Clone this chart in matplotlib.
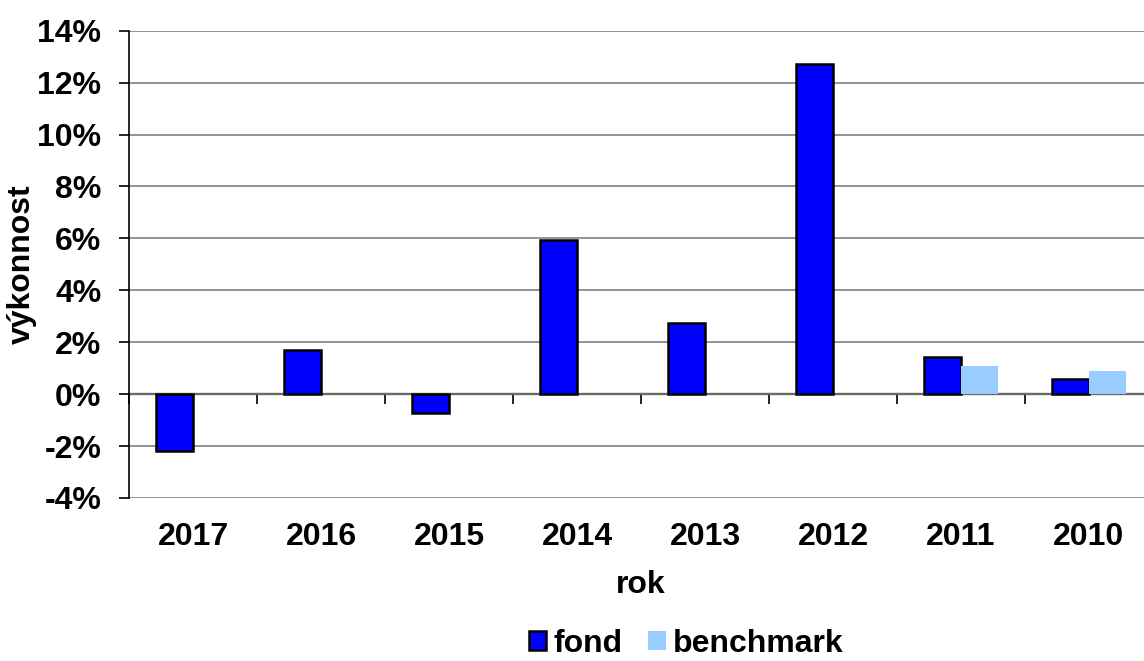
import matplotlib
matplotlib.use("Agg")
from matplotlib import pyplot as plt
from matplotlib.ticker import FuncFormatter, MultipleLocator
import numpy as np

plt.rcParams['font.family'] = ['Liberation Sans', 'DejaVu Sans']
plt.rcParams['font.weight'] = 'bold'
plt.rcParams['axes.labelweight'] = 'bold'

# data
roky = ["2017", "2016", "2015", "2014", "2013", "2012", "2011", "2010"]
fond = [-2.2, 1.7, -0.73, 5.95, 2.74, 12.72, 1.45, 0.6]
benchmark = [np.nan, np.nan, np.nan, np.nan, np.nan, np.nan, 1.1, 0.88]

fig = plt.figure(figsize=(11.44, 6.61), dpi=100)
ax = fig.add_axes([0.1128, 0.2466, 0.895, 0.707])

x = np.arange(len(roky))
w = 0.29
ax.bar(x - w / 2, fond, width=w, color='#0000FF', edgecolor='black',
       linewidth=1.8, label='fond', zorder=3)
ax.bar(x + w / 2, benchmark, width=w, color='#99CCFF', label='benchmark', zorder=3)

ax.set_xlim(-0.5, len(roky) - 0.5)
ax.set_ylim(-4, 14)
ax.yaxis.set_major_locator(MultipleLocator(2))
ax.yaxis.set_major_formatter(FuncFormatter(lambda v, p: '%d%%' % round(v)))
ax.grid(axis='y', color='#808080', linewidth=1.2, zorder=0)

for s in ['top', 'right', 'bottom']:
    ax.spines[s].set_visible(False)
ax.spines['left'].set_linewidth(1.2)

fs = 23
ax.set_xticks(x)
ax.set_xticklabels(roky)
ax.tick_params(axis='x', length=0, pad=17, labelsize=fs)
ax.tick_params(axis='y', length=7, width=1.2, pad=13, labelsize=fs, direction='out')

# nulova osa s delicimi carkami
sec = ax.secondary_xaxis(4 / 18)
sec.set_xticks(np.arange(len(roky) + 1) - 0.5)
sec.set_xticklabels([])
sec.tick_params(length=7, width=1.2, direction='out', color='black')
sec.spines['bottom'].set_linewidth(1.6)
sec.spines['bottom'].set_color('black')

ax.set_xlabel('rok', fontsize=fs, labelpad=13)
ax.set_ylabel('výkonnost', fontsize=fs)
ax.yaxis.set_label_coords(-0.09, 0.5)

fig.legend(loc='center', bbox_to_anchor=(686 / 1144, 1 - 644 / 661), ncol=2,
           frameon=False, fontsize=fs, handlelength=0.55, handleheight=0.55,
           handletextpad=0.22, columnspacing=0.8)

fig.savefig('out.png', dpi=100)
